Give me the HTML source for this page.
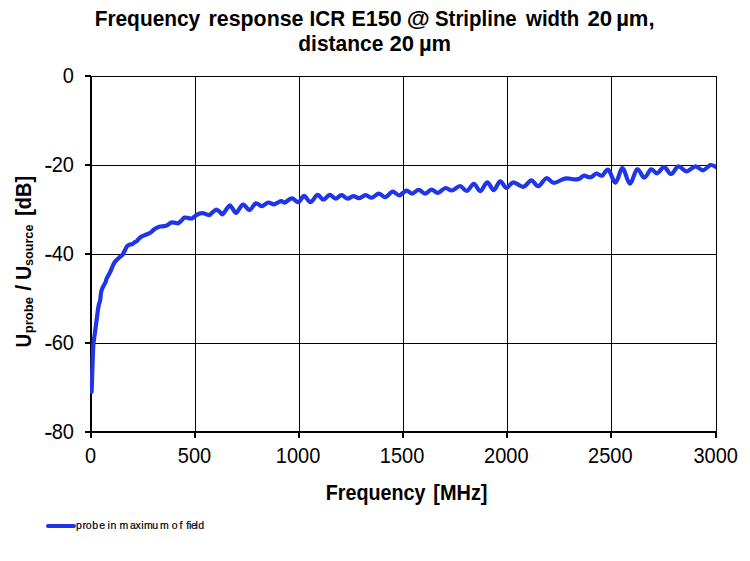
<!DOCTYPE html>
<html><head><meta charset="utf-8"><style>
html,body{margin:0;padding:0;background:#fff;}
svg{display:block;}
text{font-family:"Liberation Sans",sans-serif;fill:#000;}
</style></head><body>
<svg width="750" height="561" viewBox="0 0 750 561">
<rect width="750" height="561" fill="#fff"/>
<g stroke="#000" stroke-width="1" shape-rendering="crispEdges">
<line x1="195.5" y1="76" x2="195.5" y2="431" /><line x1="299.5" y1="76" x2="299.5" y2="431" /><line x1="403.5" y1="76" x2="403.5" y2="431" /><line x1="507.5" y1="76" x2="507.5" y2="431" /><line x1="611.5" y1="76" x2="611.5" y2="431" /><line x1="716.5" y1="76" x2="716.5" y2="431" /><line x1="91" y1="76.5" x2="717" y2="76.5" /><line x1="91" y1="165.5" x2="717" y2="165.5" /><line x1="91" y1="254.5" x2="717" y2="254.5" /><line x1="91" y1="343.5" x2="717" y2="343.5" />
<line x1="90" y1="432" x2="717" y2="432" stroke-width="2"/>
<line x1="91" y1="76" x2="91" y2="433" stroke-width="2"/>
<line x1="85" y1="76" x2="91" y2="76" stroke-width="2"/><line x1="85" y1="165" x2="92" y2="165" stroke-width="2"/><line x1="85" y1="254" x2="92" y2="254" stroke-width="2"/><line x1="85" y1="343" x2="92" y2="343" stroke-width="2"/><line x1="85" y1="432" x2="92" y2="432" stroke-width="2"/><line x1="91" y1="431" x2="91" y2="438" stroke-width="2"/><line x1="195" y1="431" x2="195" y2="438" stroke-width="2"/><line x1="299" y1="431" x2="299" y2="438" stroke-width="2"/><line x1="403" y1="431" x2="403" y2="438" stroke-width="2"/><line x1="507" y1="431" x2="507" y2="438" stroke-width="2"/><line x1="611" y1="431" x2="611" y2="438" stroke-width="2"/><line x1="716" y1="431" x2="716" y2="438" stroke-width="2"/>
</g>
<defs><clipPath id="pc"><rect x="90" y="70" width="626" height="370"/></clipPath></defs>
<path d="M91.60,392.00 C91.65,390.67 91.78,387.67 91.90,384.00 C92.02,380.33 92.15,374.50 92.30,370.00 C92.45,365.50 92.62,361.33 92.80,357.00 C92.98,352.67 93.08,347.75 93.40,344.00 C93.72,340.25 94.20,338.22 94.70,334.50 C95.20,330.78 95.83,325.98 96.40,321.70 C96.97,317.42 97.68,311.65 98.10,308.80 C98.52,305.95 98.55,306.07 98.90,304.60 C99.25,303.13 99.85,301.93 100.20,300.00 C100.55,298.07 100.72,294.75 101.00,293.00 C101.28,291.25 101.53,290.58 101.90,289.50 C102.27,288.42 102.58,287.75 103.20,286.50 C103.82,285.25 105.02,283.33 105.60,282.00 C106.18,280.67 106.20,279.67 106.70,278.50 C107.20,277.33 107.98,276.17 108.60,275.00 C109.22,273.83 109.80,272.78 110.40,271.50 C111.00,270.22 111.58,268.70 112.20,267.30 C112.82,265.90 113.43,264.23 114.10,263.10 C114.77,261.97 115.42,261.35 116.20,260.50 C116.98,259.65 117.93,258.78 118.80,258.00 C119.67,257.22 120.68,256.50 121.40,255.80 C122.12,255.10 122.57,254.63 123.10,253.80 C123.63,252.97 124.10,251.80 124.60,250.80 C125.10,249.80 125.57,248.65 126.10,247.80 C126.63,246.95 127.15,246.23 127.80,245.70 C128.45,245.17 129.22,244.88 130.00,244.60 C130.78,244.32 131.73,244.38 132.50,244.00 C133.27,243.62 133.88,242.78 134.60,242.30 C135.32,241.82 136.02,241.78 136.80,241.10 C137.58,240.42 138.47,238.98 139.30,238.20 C140.13,237.42 140.85,236.93 141.80,236.40 C142.75,235.87 143.87,235.47 145.00,235.00 C146.13,234.53 147.53,234.13 148.60,233.60 C149.67,233.07 150.45,232.52 151.40,231.80 C152.35,231.08 153.35,229.98 154.30,229.30 C155.25,228.62 156.15,228.17 157.10,227.70 C158.05,227.23 158.80,226.75 160.00,226.50 C161.20,226.25 163.13,226.38 164.30,226.20 C165.47,226.02 165.85,226.02 167.00,225.40 C168.15,224.78 169.97,222.95 171.20,222.50 C172.43,222.05 173.23,222.57 174.40,222.70 C175.57,222.83 177.03,223.65 178.20,223.30 C179.37,222.95 180.33,221.55 181.40,220.60 C182.47,219.65 183.45,218.00 184.60,217.60 C185.75,217.20 187.05,218.07 188.30,218.20 C189.55,218.33 190.93,218.77 192.10,218.40 C193.27,218.03 194.05,216.80 195.30,216.00 C196.55,215.20 198.27,214.07 199.60,213.60 C200.93,213.13 201.78,212.95 203.30,213.20 C204.82,213.45 207.35,215.07 208.70,215.10 C210.05,215.13 210.20,214.30 211.40,213.40 C212.60,212.50 214.57,210.00 215.90,209.70 C217.23,209.40 218.28,210.83 219.40,211.60 C220.52,212.37 221.45,214.67 222.60,214.30 C223.75,213.93 225.10,210.88 226.30,209.40 C227.50,207.92 228.72,205.48 229.80,205.40 C230.88,205.32 231.72,207.67 232.80,208.90 C233.88,210.13 234.60,213.52 236.30,212.80 C238.00,212.08 240.82,205.07 243.00,204.60 C245.18,204.13 247.27,210.22 249.40,210.00 C251.53,209.78 253.75,203.95 255.80,203.30 C257.85,202.65 259.65,206.23 261.70,206.10 C263.75,205.97 266.05,202.80 268.10,202.50 C270.15,202.20 271.85,204.53 274.00,204.30 C276.15,204.07 279.22,201.40 281.00,201.10 C282.78,200.80 282.92,202.95 284.70,202.50 C286.48,202.05 289.40,198.47 291.70,198.40 C294.00,198.33 296.43,202.52 298.50,202.10 C300.57,201.68 302.10,195.88 304.10,195.90 C306.10,195.92 308.27,202.38 310.50,202.20 C312.73,202.02 315.37,195.22 317.50,194.80 C319.63,194.38 321.25,199.70 323.30,199.70 C325.35,199.70 327.75,194.98 329.80,194.80 C331.85,194.62 333.65,198.55 335.60,198.60 C337.55,198.65 339.53,195.10 341.50,195.10 C343.47,195.10 345.43,198.42 347.40,198.60 C349.37,198.78 351.33,196.27 353.30,196.20 C355.27,196.13 357.15,198.38 359.20,198.20 C361.25,198.02 363.50,195.18 365.60,195.10 C367.70,195.02 369.63,197.93 371.80,197.70 C373.97,197.47 376.32,193.78 378.60,193.70 C380.88,193.62 383.18,197.53 385.50,197.20 C387.82,196.87 390.18,192.02 392.50,191.70 C394.82,191.38 397.08,195.47 399.40,195.30 C401.72,195.13 404.27,190.98 406.40,190.70 C408.53,190.42 410.15,193.75 412.20,193.60 C414.25,193.45 416.55,189.80 418.70,189.80 C420.85,189.80 422.97,193.63 425.10,193.60 C427.23,193.57 429.37,189.72 431.50,189.60 C433.63,189.48 435.58,193.17 437.90,192.90 C440.22,192.63 443.05,188.40 445.40,188.00 C447.75,187.60 449.57,190.83 452.00,190.50 C454.43,190.17 457.52,185.93 460.00,186.00 C462.48,186.07 464.58,191.25 466.90,190.90 C469.22,190.55 471.67,183.87 473.90,183.90 C476.13,183.93 478.08,191.37 480.30,191.10 C482.52,190.83 484.97,182.47 487.20,182.30 C489.43,182.13 491.55,190.25 493.70,190.10 C495.85,189.95 497.97,181.78 500.10,181.40 C502.23,181.02 504.28,187.65 506.50,187.80 C508.72,187.95 510.60,182.47 513.40,182.30 C516.20,182.13 520.32,187.13 523.30,186.80 C526.28,186.47 528.80,180.40 531.30,180.30 C533.80,180.20 535.78,186.55 538.30,186.20 C540.82,185.85 543.80,178.75 546.40,178.20 C549.00,177.65 550.82,182.83 553.90,182.90 C556.98,182.97 561.47,179.20 564.90,178.60 C568.33,178.00 572.27,179.22 574.50,179.30 C576.73,179.38 577.22,179.38 578.30,179.10 C579.38,178.82 580.02,178.17 581.00,177.60 C581.98,177.03 582.60,175.75 584.20,175.70 C585.80,175.65 588.55,177.67 590.60,177.30 C592.65,176.93 594.60,173.77 596.50,173.50 C598.40,173.23 600.02,176.32 602.00,175.70 C603.98,175.08 606.15,168.65 608.40,169.80 C610.65,170.95 613.13,182.87 615.50,182.60 C617.87,182.33 620.22,168.03 622.60,168.20 C624.98,168.37 627.37,183.42 629.80,183.60 C632.23,183.78 634.80,170.30 637.20,169.30 C639.60,168.30 641.88,177.60 644.20,177.60 C646.52,177.60 648.97,170.00 651.10,169.30 C653.23,168.60 654.82,173.77 657.00,173.40 C659.18,173.03 661.85,167.00 664.20,167.10 C666.55,167.20 668.73,174.12 671.10,174.00 C673.47,173.88 675.85,166.85 678.40,166.40 C680.95,165.95 683.55,171.30 686.40,171.30 C689.25,171.30 692.73,166.55 695.50,166.40 C698.27,166.25 700.53,170.62 703.00,170.40 C705.47,170.18 708.05,165.63 710.30,165.10 C712.55,164.57 715.47,166.85 716.50,167.20" fill="none" stroke="#1f35e8" stroke-width="4.2" stroke-linejoin="round" stroke-linecap="round" clip-path="url(#pc)"/>
<line x1="716.5" y1="76" x2="716.5" y2="431" stroke="#000" stroke-width="1" shape-rendering="crispEdges"/>
<line x1="48" y1="526" x2="74" y2="526" stroke="#1f35e8" stroke-width="4" stroke-linecap="round"/>
<text x="94.64" y="26" font-size="21.5" font-weight="bold" textLength="105.61" lengthAdjust="spacingAndGlyphs">Frequency</text><text x="208.51" y="26" font-size="21.5" font-weight="bold" textLength="94.97" lengthAdjust="spacingAndGlyphs">response</text><text x="309.56" y="26" font-size="21.5" font-weight="bold" textLength="35.60" lengthAdjust="spacingAndGlyphs">ICR</text><text x="351.51" y="26" font-size="21.5" font-weight="bold" textLength="50.06" lengthAdjust="spacingAndGlyphs">E150</text><text x="406.70" y="26" font-size="21.5" font-weight="bold" textLength="23.00" lengthAdjust="spacingAndGlyphs">@</text><text x="434.99" y="26" font-size="21.5" font-weight="bold" textLength="81.74" lengthAdjust="spacingAndGlyphs">Stripline</text><text x="526.10" y="26" font-size="21.5" font-weight="bold" textLength="53.13" lengthAdjust="spacingAndGlyphs">width</text><text x="587.52" y="26" font-size="21.5" font-weight="bold" textLength="24.72" lengthAdjust="spacingAndGlyphs">20</text><text x="616.17" y="26" font-size="21.5" font-weight="bold" textLength="38.44" lengthAdjust="spacingAndGlyphs">µm,</text><text x="298.26" y="51" font-size="21.5" font-weight="bold" textLength="85.12" lengthAdjust="spacingAndGlyphs">distance</text><text x="389.63" y="51" font-size="21.5" font-weight="bold" textLength="24.50" lengthAdjust="spacingAndGlyphs">20</text><text x="418.97" y="51" font-size="21.5" font-weight="bold" textLength="32.15" lengthAdjust="spacingAndGlyphs">µm</text><text x="325.72" y="500" font-size="21.5" font-weight="bold" textLength="99.73" lengthAdjust="spacingAndGlyphs">Frequency</text><text x="433.30" y="500" font-size="21.5" font-weight="bold" textLength="54.22" lengthAdjust="spacingAndGlyphs">[MHz]</text><text x="62.80" y="83" font-size="22" textLength="11.12" lengthAdjust="spacingAndGlyphs">0</text><text x="51.70" y="172" font-size="22" textLength="22.25" lengthAdjust="spacingAndGlyphs">20</text><rect x="45.4" y="165.9" width="6.1" height="2" fill="#000"/><text x="51.70" y="261" font-size="22" textLength="22.25" lengthAdjust="spacingAndGlyphs">40</text><rect x="45.4" y="254.9" width="6.1" height="2" fill="#000"/><text x="51.70" y="350" font-size="22" textLength="22.25" lengthAdjust="spacingAndGlyphs">60</text><rect x="45.4" y="343.9" width="6.1" height="2" fill="#000"/><text x="51.70" y="439" font-size="22" textLength="22.25" lengthAdjust="spacingAndGlyphs">80</text><rect x="45.4" y="432.9" width="6.1" height="2" fill="#000"/><text x="84.90" y="463" font-size="22" textLength="11.12" lengthAdjust="spacingAndGlyphs">0</text><text x="177.80" y="463" font-size="22" textLength="33.37" lengthAdjust="spacingAndGlyphs">500</text><text x="275.85" y="463" font-size="22" textLength="44.49" lengthAdjust="spacingAndGlyphs">1000</text><text x="379.85" y="463" font-size="22" textLength="44.49" lengthAdjust="spacingAndGlyphs">1500</text><text x="484.10" y="463" font-size="22" textLength="44.49" lengthAdjust="spacingAndGlyphs">2000</text><text x="588.10" y="463" font-size="22" textLength="44.49" lengthAdjust="spacingAndGlyphs">2500</text><text x="693.40" y="463" font-size="22" textLength="44.49" lengthAdjust="spacingAndGlyphs">3000</text><text x="76.12 82.42 85.68 92.32 99.18 107.62 110.62 119.62 129.88 135.59 141.32 144.02 152.32 160.02 171.78 179.54 186.14 189.12 190.98 195.52 198.18" y="529" font-size="10.5" stroke="#000" stroke-width="0.2">probeinmaximumoffield</text>
<g transform="rotate(-90)"><text x="-347.38" y="30.6" font-size="21.5" font-weight="bold" textLength="13.54" lengthAdjust="spacingAndGlyphs">U</text><text x="-333.35" y="33.1" font-size="13" font-weight="bold" textLength="36.35" lengthAdjust="spacingAndGlyphs">probe</text><text x="-290.82" y="30.6" font-size="21.5" font-weight="bold" textLength="5.98" lengthAdjust="spacingAndGlyphs">/</text><text x="-279.94" y="30.6" font-size="21.5" font-weight="bold" textLength="14.26" lengthAdjust="spacingAndGlyphs">U</text><text x="-266.04" y="33.1" font-size="13" font-weight="bold" textLength="41.48" lengthAdjust="spacingAndGlyphs">source</text><text x="-215.80" y="30.6" font-size="21.5" font-weight="bold" textLength="39.98" lengthAdjust="spacingAndGlyphs">[dB]</text></g>
</svg>
</body></html>
